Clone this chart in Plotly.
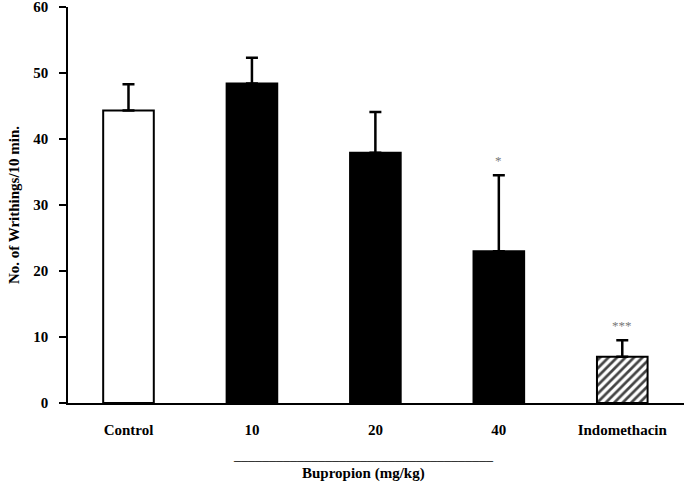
import plotly.graph_objects as go

categories = ["Control", "10", "20", "40", "Indomethacin"]
means = [44.3, 48.4, 37.9, 23.0, 7.0]
sem = [4.0, 3.9, 6.2, 11.5, 2.5]
stars = ["", "", "", "*", "***"]
y_ticks = [0, 10, 20, 30, 40, 50, 60]
group_label = "Bupropion (mg/kg)"

font_family = "Liberation Serif, Times New Roman, serif"

fig = go.Figure()

fills = ["white", "black", "black", "black", "white"]
patterns = ["", "", "", "", "/"]

fig.add_trace(go.Bar(
    x=categories,
    y=means,
    width=0.41,
    marker=dict(
        color=fills,
        line=dict(color="black", width=2),
        pattern=dict(shape=patterns, fgcolor="black", bgcolor="white", fgopacity=1,
                     size=6, solidity=0.45),
    ),
    error_y=dict(type="data", array=sem, arrayminus=[0] * len(sem), symmetric=False,
                 color="black", thickness=2.5, width=6),
    showlegend=False,
))

for i, (m, s, st) in enumerate(zip(means, sem, stars)):
    if st:
        fig.add_annotation(x=i, y=m + s, text=st, showarrow=False, yanchor="bottom", yshift=5,
                           font=dict(family=font_family, size=13, color="#777777"))

fig.add_annotation(x=0.48, y=-0.1554, xref="paper", yref="paper", showarrow=False,
                   yanchor="bottom", text="_" * 37,
                   font=dict(family=font_family, size=14, color="black"))
fig.add_annotation(x=0.48, y=-0.178, xref="paper", yref="paper", showarrow=False,
                   yanchor="middle", text="<b>" + group_label + "</b>",
                   font=dict(family=font_family, size=15, color="black"))

fig.update_layout(
    width=684, height=483,
    margin=dict(l=68, r=0, t=7, b=80),
    plot_bgcolor="white", paper_bgcolor="white",
    font=dict(family=font_family, color="black"),
    xaxis=dict(
        type="category",
        range=[-0.49, 4.5],
        automargin=False,
        showline=True, linecolor="black", linewidth=1.5,
        ticks="outside", ticklen=12, tickcolor="rgba(0,0,0,0)",
        tickfont=dict(family=font_family, size=15, color="black", weight="bold"),
        showgrid=False,
    ),
    yaxis=dict(
        range=[0, 60],
        tickvals=y_ticks,
        automargin=False,
        ticklabeloverflow="allow",
        showline=True, linecolor="black", linewidth=1.5,
        ticks="outside", ticklen=7, tickcolor="black", tickwidth=1.5,
        ticklabelstandoff=8,
        tickfont=dict(family=font_family, size=15, color="black", weight="bold"),
        showgrid=False, zeroline=False,
        title=dict(text="<b>No. of Writhings/10 min.</b>", standoff=10,
                   font=dict(family=font_family, size=15, color="black")),
    ),
)

fig.write_html("out.html", config={"displayModeBar": False},
               post_script="document.body.style.margin='0';")
